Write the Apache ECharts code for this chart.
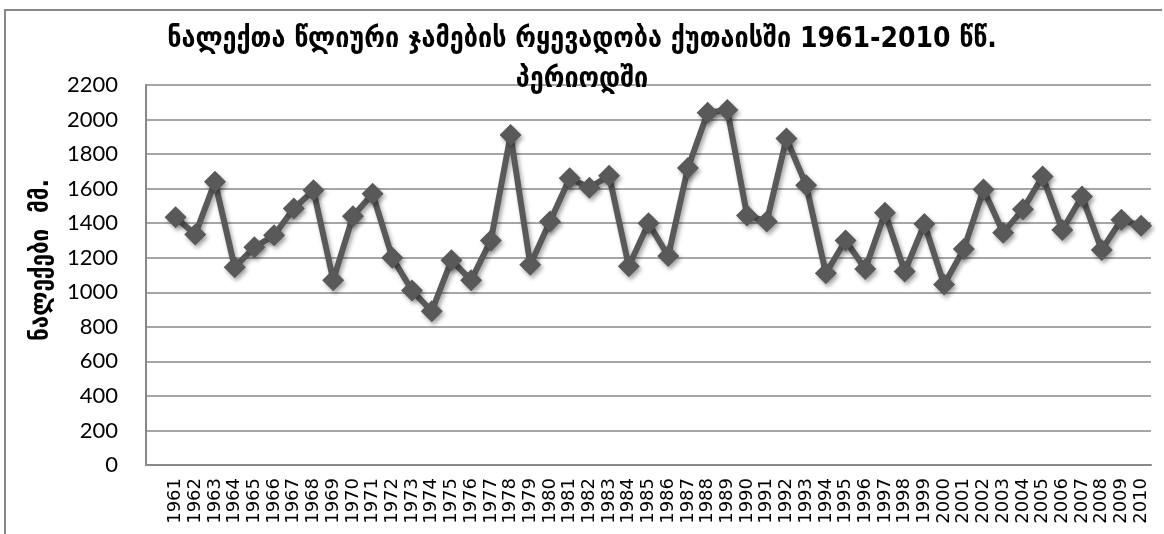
<!DOCTYPE html>
<html>
<head>
<meta charset="utf-8">
<script src="https://cdn.jsdelivr.net/npm/echarts@6/dist/echarts.min.js"></script>
<style>
  html, body { margin: 0; padding: 0; background: #fff; }
  #chart { width: 1164px; height: 534px; }
</style>
</head>
<body>
<div id="chart"></div>
<script>
// წლები (categories)
const years = [
  '1961', '1962', '1963', '1964', '1965', '1966', '1967', '1968', '1969', '1970',
  '1971', '1972', '1973', '1974', '1975', '1976', '1977', '1978', '1979', '1980',
  '1981', '1982', '1983', '1984', '1985', '1986', '1987', '1988', '1989', '1990',
  '1991', '1992', '1993', '1994', '1995', '1996', '1997', '1998', '1999', '2000',
  '2001', '2002', '2003', '2004', '2005', '2006', '2007', '2008', '2009', '2010'
]
// წლიური ნალექები, მმ
const precip = [
  1435, 1335, 1640, 1145, 1260, 1330, 1485, 1590, 1070, 1440,
  1570, 1200, 1010, 890, 1185, 1070, 1300, 1910, 1160, 1410,
  1660, 1605, 1675, 1150, 1400, 1210, 1720, 2040, 2055, 1445,
  1410, 1890, 1620, 1110, 1300, 1135, 1460, 1120, 1395, 1045,
  1250, 1595, 1345, 1480, 1670, 1360, 1555, 1245, 1420, 1385
]
const yTicks = [0, 200, 400, 600, 800, 1000, 1200, 1400, 1600, 1800, 2000, 2200]

const titleText = 'ნალექთა წლიური ჯამების რყევადობა ქუთაისში 1961-2010 წწ.\nპერიოდში'
const yName = 'ნალექები  მმ.'

const chart = echarts.init(document.getElementById('chart'))
const gray = '#888888'
const lineColor = '#595959'

chart.setOption({
  animation: false,
  title: {
    text: titleText,
    left: 'center',
    top: 15,
    textStyle: {
      fontFamily: 'DejaVu Sans Condensed, DejaVu Sans',
      fontWeight: 'bold',
      fontSize: 28,
      lineHeight: 40,
      color: '#000'
    }
  },
  grid: {
    left: 146,
    right: 13,
    top: 85,
    bottom: 69
  },
  xAxis: {
    type: 'category',
    // first slot is kept empty like in the original sheet
    data: [''].concat(years),
    boundaryGap: true,
    axisTick: { show: false },
    axisLine: { lineStyle: { color: gray, width: 2 } },
    axisLabel: {
      interval: 0,
      rotate: 90,
      margin: 13,
      fontSize: 18,
      fontFamily: 'DejaVu Sans',
      color: '#000'
    },
    splitLine: { show: false }
  },
  yAxis: {
    type: 'value',
    min: yTicks[0],
    max: yTicks[yTicks.length - 1],
    interval: 200,
    name: yName,
    nameLocation: 'middle',
    nameGap: 92,
    nameRotate: 90,
    nameTextStyle: {
      fontFamily: 'DejaVu Sans Condensed, DejaVu Sans',
      fontWeight: 'bold',
      fontSize: 25,
      color: '#000',
      padding: [0, 0, 0, 30]
    },
    axisLine: { show: true, lineStyle: { color: gray, width: 2 } },
    axisTick: { show: false },
    axisLabel: {
      margin: 28,
      fontSize: 22,
      fontFamily: 'Lato',
      color: '#000',
      formatter: v => String(v)
    },
    splitLine: { lineStyle: { color: gray, width: 1.5 } }
  },
  series: [
    {
      type: 'line',
      data: [null].concat(precip),
      symbol: 'diamond',
      symbolSize: 22,
      lineStyle: {
        color: lineColor,
        width: 6,
        shadowColor: 'rgba(0,0,0,0.35)',
        shadowBlur: 4,
        shadowOffsetX: 2,
        shadowOffsetY: 3
      },
      itemStyle: {
        color: lineColor,
        opacity: 1,
        shadowColor: 'rgba(0,0,0,0.35)',
        shadowBlur: 4,
        shadowOffsetX: 2,
        shadowOffsetY: 3
      }
    }
  ],
  graphic: [
    {
      type: 'polyline',
      silent: true,
      shape: { points: [[5, 534], [5, 10], [1162, 10]] },
      style: { stroke: gray, lineWidth: 2, fill: null }
    }
  ]
})
</script>
</body>
</html>
